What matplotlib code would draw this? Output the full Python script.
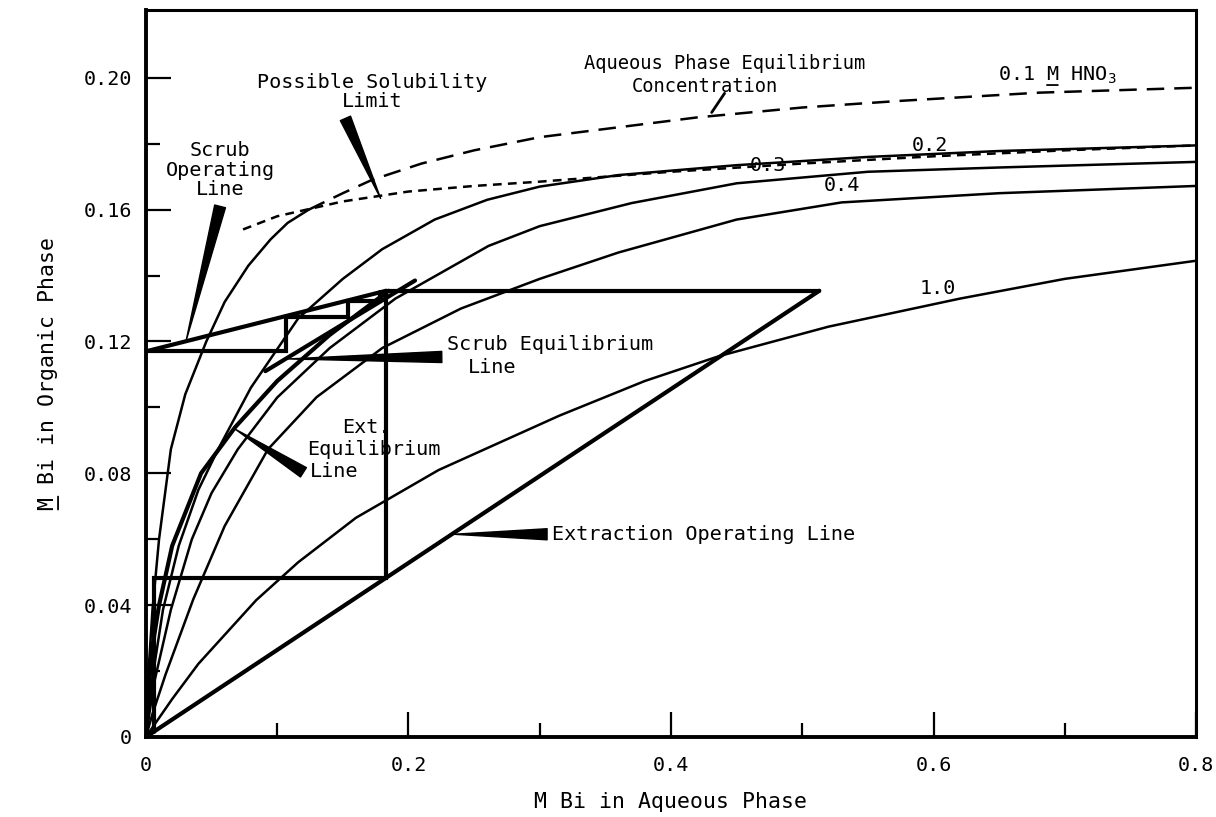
import matplotlib
matplotlib.use("Agg")
import matplotlib.pyplot as plt
from matplotlib.transforms import offset_copy

plt.rcParams['font.family'] = ['DejaVu Sans Mono']

# Bi distribution isotherms (aqueous M Bi -> organic M Bi) at each HNO3 strength
hno3_01_x = [0, 0.002, 0.005, 0.010, 0.019, 0.030, 0.046, 0.060, 0.078, 0.095, 0.108, 0.124]
hno3_01_y = [0, 0.020, 0.0386, 0.060, 0.0873, 0.104, 0.120, 0.132, 0.143, 0.151, 0.156, 0.160]
# 0.1 M isotherm above the aqueous-phase equilibrium concentration
aq_eq_x = [0.124, 0.150, 0.172, 0.210, 0.250, 0.300, 0.360, 0.420, 0.500, 0.574, 0.680, 0.800]
aq_eq_y = [0.160, 0.165, 0.169, 0.174, 0.178, 0.182, 0.185, 0.188, 0.191, 0.193, 0.1955, 0.197]

hno3_02_x = [0, 0.005, 0.013, 0.025, 0.040, 0.055, 0.080, 0.116, 0.150, 0.180, 0.220, 0.260,
             0.300, 0.360, 0.450, 0.550, 0.650, 0.800]
hno3_02_y = [0, 0.018, 0.0386, 0.058, 0.075, 0.0873, 0.106, 0.127, 0.139, 0.148, 0.157, 0.163,
             0.167, 0.1705, 0.1735, 0.176, 0.1778, 0.1795]

hno3_03_x = [0, 0.006, 0.019, 0.035, 0.050, 0.070, 0.100, 0.140, 0.190, 0.261, 0.300, 0.370,
             0.450, 0.550, 0.650, 0.800]
hno3_03_y = [0, 0.016, 0.0386, 0.060, 0.074, 0.0873, 0.103, 0.118, 0.133, 0.149, 0.155, 0.162,
             0.168, 0.1715, 0.1728, 0.1745]

hno3_04_x = [0, 0.005, 0.015, 0.036, 0.060, 0.093, 0.130, 0.180, 0.240, 0.300, 0.360, 0.450,
             0.530, 0.650, 0.800]
hno3_04_y = [0, 0.007, 0.019, 0.0417, 0.064, 0.0873, 0.1031, 0.118, 0.130, 0.139, 0.147,
             0.157, 0.1622, 0.165, 0.1672]

hno3_10_x = [0, 0.020, 0.040, 0.084, 0.116, 0.160, 0.223, 0.315, 0.380, 0.437, 0.520, 0.620,
             0.700, 0.800]
hno3_10_y = [0, 0.0115, 0.0222, 0.0415, 0.053, 0.0665, 0.081, 0.0975, 0.108, 0.1156, 0.1245,
             0.133, 0.139, 0.1445]

# possible solubility limit of Bi in the organic phase
sol_x = [0.074, 0.100, 0.150, 0.200, 0.250, 0.300, 0.400, 0.500, 0.600, 0.700, 0.800]
sol_y = [0.154, 0.158, 0.1625, 0.1655, 0.1672, 0.1685, 0.1715, 0.174, 0.1762, 0.178, 0.1795]

# extraction section
ext_eq_x = [0, 0.004, 0.010, 0.020, 0.042, 0.068, 0.100, 0.140, 0.185]
ext_eq_y = [0, 0.025, 0.040, 0.058, 0.080, 0.094, 0.108, 0.122, 0.1354]
ext_op_x = [0, 0.513]
ext_op_y = [0, 0.1354]
feed_x = [0.183, 0.513]
feed_y = [0.1354, 0.1354]
ext_step_x = [0.183, 0.183, 0.006, 0.006]
ext_step_y = [0.1354, 0.0483, 0.0483, 0.0016]

# scrub section
scrub_op_x = [0, 0.183]
scrub_op_y = [0.117, 0.1354]
scrub_eq_x = [0.091, 0.205]
scrub_eq_y = [0.111, 0.1385]
scrub_step_x = [0, 0.107, 0.107, 0.154, 0.154, 0.178, 0.178]
scrub_step_y = [0.117, 0.117, 0.1275, 0.1275, 0.1322, 0.1322, 0.1349]

fig = plt.figure(figsize=(12.16, 8.17), dpi=100)
ax = fig.add_axes([0.120, 0.098, 0.8636, 0.8898])

thin = dict(color='black', lw=1.8, solid_capstyle='round')
thick = dict(color='black', lw=3.0, solid_capstyle='round', solid_joinstyle='miter')

ax.plot(hno3_01_x, hno3_01_y, **thin)
ax.plot(aq_eq_x, aq_eq_y, color='black', lw=1.8, dashes=(7, 4))
ax.plot(hno3_02_x, hno3_02_y, **thin)
ax.plot(hno3_03_x, hno3_03_y, **thin)
ax.plot(hno3_04_x, hno3_04_y, **thin)
ax.plot(hno3_10_x, hno3_10_y, **thin)
ax.plot(sol_x, sol_y, color='black', lw=1.8, dashes=(3.5, 2.5))

ax.plot(ext_eq_x, ext_eq_y, **thick)
ax.plot(ext_op_x, ext_op_y, **thick)
ax.plot(feed_x, feed_y, **thick)
ax.plot(ext_step_x, ext_step_y, **thick)
ax.plot(scrub_op_x, scrub_op_y, **thick)
ax.plot(scrub_eq_x, scrub_eq_y, **thick)
ax.plot(scrub_step_x, scrub_step_y, **thick)

ax.set_xlim(0, 0.8)
ax.set_ylim(0, 0.2206)
ax.set_xticks([0, 0.2, 0.4, 0.6, 0.8], ['0', '0.2', '0.4', '0.6', '0.8'])
ax.set_xticks([0.1, 0.3, 0.5, 0.7], minor=True)
ax.set_yticks([0, 0.04, 0.08, 0.12, 0.16, 0.20], ['0', '0.04', '0.08', '0.12', '0.16', '0.20'])
ax.set_yticks([0.02, 0.06, 0.10, 0.14, 0.18], minor=True)
ax.tick_params(which='both', direction='in', width=1.6, labelsize=14.5)
ax.tick_params(which='major', length=18)
ax.tick_params(which='minor', length=10)
ax.tick_params(axis='x', pad=14)
ax.tick_params(axis='y', pad=10)
for side in ax.spines.values():
    side.set_linewidth(2.2)
ax.spines['left'].set_linewidth(2.8)
ax.spines['bottom'].set_linewidth(2.8)


def underline(x, y, coords, p0, p1, size):
    # draw a short underline between two point offsets from an anchor (monospace glyph cells)
    em = 0.602 * size
    ax.annotate('', xy=(x, y), xycoords=offset_copy(coords, fig, x=p1[0] * em, y=p1[1] * em,
                                                    units='points'),
                xytext=(x, y), textcoords=offset_copy(coords, fig, x=p0[0] * em,
                                                      y=p0[1] * em, units='points'),
                arrowprops=dict(arrowstyle='-', color='black', lw=1.3, shrinkA=0, shrinkB=0),
                annotation_clip=False)


ax.set_xlabel('M Bi in Aqueous Phase', fontsize=15.5, labelpad=12)
ylab_size = 15.5
ax.text(-0.088, 0.5, 'M Bi in Organic Phase', transform=ax.transAxes, fontsize=ylab_size,
        rotation=90, rotation_mode='anchor', ha='center', va='baseline')
# underline under the "M" of the rotated label (text runs bottom to top)
underline(-0.088, 0.5, ax.transAxes, (0.35, -10.5), (0.35, -9.5), ylab_size)

fs = 14.5
ax.text(0.0565, 0.172, 'Scrub\nOperating\nLine', fontsize=fs, ha='center', va='center',
        linespacing=1.05)
ax.text(0.172, 0.1956, 'Possible Solubility\nLimit', fontsize=fs, ha='center', va='center',
        linespacing=1.0)
ax.text(0.441, 0.2045, 'Aqueous Phase Equilibrium', fontsize=13.5, ha='center', va='center')
ax.text(0.426, 0.1975, 'Concentration', fontsize=13.5, ha='center', va='center')
ax.text(0.649, 0.199, r'0.1 M HNO$_\mathregular{3}$', fontsize=fs, ha='left', va='baseline')
underline(0.649, 0.199, ax.transData, (4.05, -0.32), (4.95, -0.32), fs)
ax.text(0.597, 0.1795, '0.2', fontsize=fs, ha='center', va='center')
ax.text(0.4737, 0.1735, '0.3', fontsize=fs, ha='center', va='center')
ax.text(0.530, 0.1672, '0.4', fontsize=fs, ha='center', va='center')
ax.text(0.603, 0.136, '1.0', fontsize=fs, ha='center', va='center')
ax.text(0.229, 0.119, 'Scrub Equilibrium', fontsize=fs, ha='left', va='center')
ax.text(0.2636, 0.112, 'Line', fontsize=fs, ha='center', va='center')
ax.text(0.168, 0.094, 'Ext.', fontsize=fs, ha='center', va='center')
ax.text(0.1734, 0.0873, 'Equilibrium', fontsize=fs, ha='center', va='center')
ax.text(0.143, 0.0806, 'Line', fontsize=fs, ha='center', va='center')
ax.text(0.3094, 0.0615, 'Extraction Operating Line', fontsize=fs, ha='left', va='center')

# tapered leader wedges from the labels to the lines they name
wedge = dict(arrowstyle='wedge,tail_width=0.8,shrink_factor=0.5', color='black',
             mutation_scale=10, shrinkA=0, shrinkB=0)
for tip, base in [((0.0306, 0.1202), (0.0565, 0.161)),
                  ((0.1788, 0.1634), (0.152, 0.1877)),
                  ((0.1085, 0.1147), (0.2254, 0.1153)),
                  ((0.068, 0.0934), (0.120, 0.0803)),
                  ((0.2345, 0.0615), (0.3056, 0.0615))]:
    ax.annotate('', xy=tip, xytext=base, arrowprops=wedge)
ax.annotate('', xy=(0.431, 0.1895), xytext=(0.4408, 0.1953),
            arrowprops=dict(arrowstyle='-', color='black', lw=2, shrinkA=0, shrinkB=0))

fig.savefig('out.png', dpi=100)
